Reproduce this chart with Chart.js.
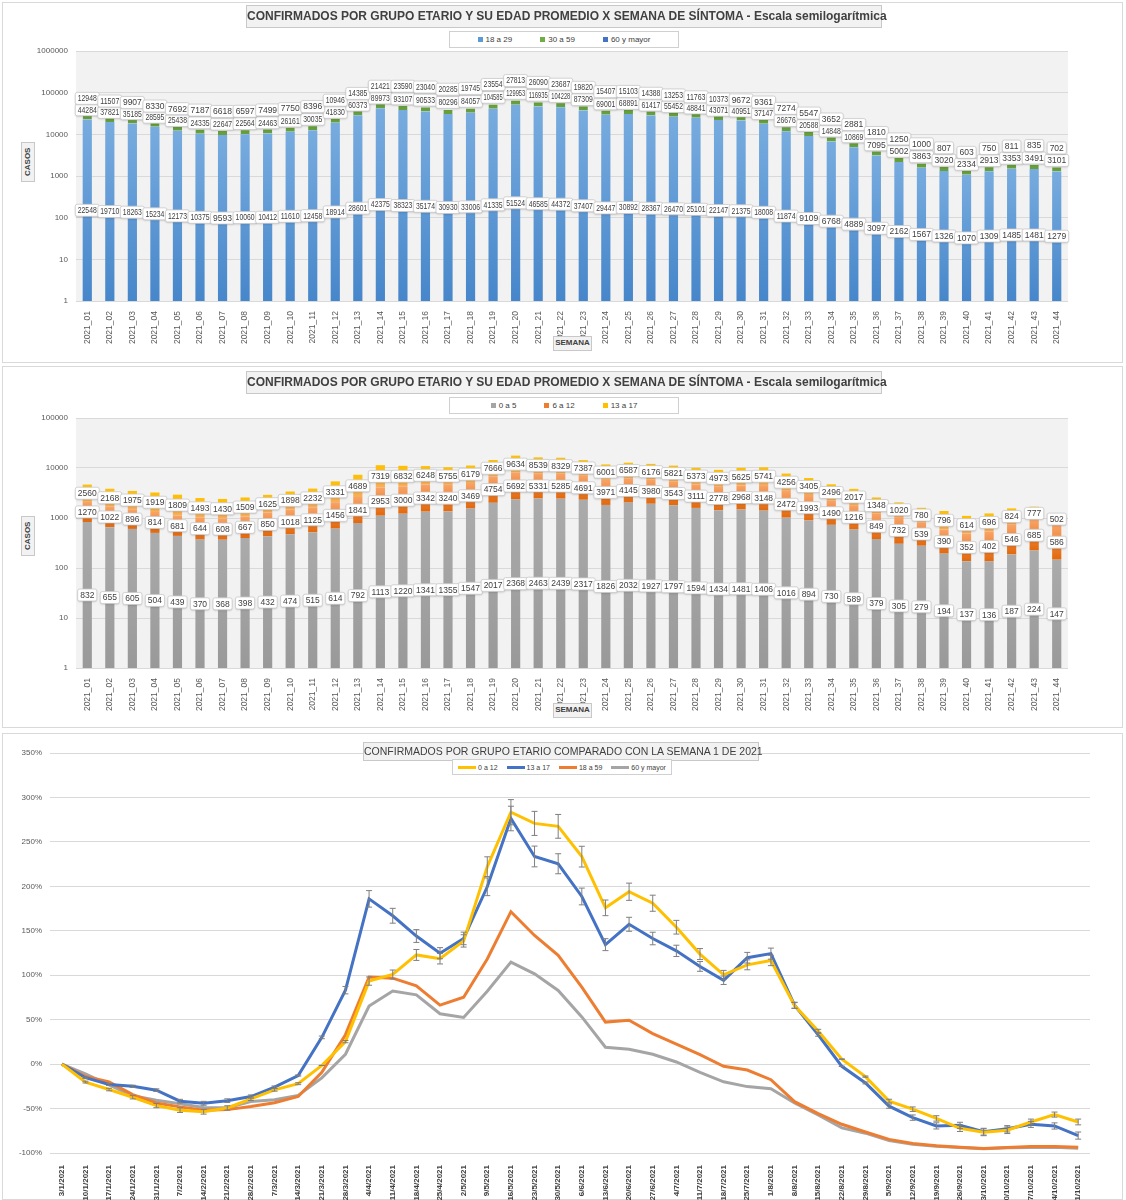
<!DOCTYPE html>
<html>
<head>
<meta charset="utf-8">
<script src="https://cdn.jsdelivr.net/npm/chart.js@4.4.1/dist/chart.umd.min.js"></script>
<style>
body{margin:0;background:#fff;font-family:"Liberation Sans",Arial,sans-serif;color:#404040}
.panel{position:absolute;left:2px;width:1121px;border:1px solid #d9d9d9;box-sizing:border-box;background:#fff}
canvas{position:absolute;left:0}
.ttl{position:absolute;background:#f2f2f2;border:1px solid #c8c8c8;text-align:center;white-space:nowrap;color:#404040}
.leg{position:absolute;border:1px solid #d0d0d0;background:#fff;font-size:8px;color:#404040;display:flex;align-items:center;justify-content:center;gap:28px;white-space:nowrap}
.leg span{white-space:nowrap}
.leg i{display:inline-block;width:5px;height:5px;margin-right:3px;vertical-align:middle}
.leg b{display:inline-block;width:18px;height:3px;margin-right:2px;vertical-align:middle}
.axt{position:absolute;background:#f2f2f2;border:1px solid #c8c8c8;font-size:8px;font-weight:bold;color:#404040;text-align:center;line-height:12px}
</style>
</head>
<body>
<div class="panel" style="top:2px;height:361px"></div>
<div class="panel" style="top:366px;height:362px"></div>
<div class="panel" style="top:733px;height:467px"></div>

<canvas id="c1" width="1126" height="362" style="top:0"></canvas>
<canvas id="c2" width="1126" height="362" style="top:366px"></canvas>
<canvas id="c3" width="1126" height="467" style="top:733px"></canvas>

<div class="ttl" style="left:246px;top:5px;width:634px;height:21px;line-height:21px;font-size:12px;font-weight:bold">CONFIRMADOS POR GRUPO ETARIO Y SU EDAD PROMEDIO X SEMANA DE SÍNTOMA - Escala semilogarítmica</div>
<div class="leg" style="left:449px;top:31px;width:228px;height:15px"><span><i style="background:#5B9BD5"></i>18 a 29</span><span><i style="background:#70AD47"></i>30 a 59</span><span><i style="background:#4472C4"></i>60 y mayor</span></div>
<div class="axt" style="left:21px;top:142px;width:12px;height:38px;writing-mode:vertical-rl;transform:rotate(180deg);line-height:12px">CASOS</div>
<div class="axt" style="left:553px;top:336px;width:37px;height:13px">SEMANA</div>

<div class="ttl" style="left:246px;top:371px;width:634px;height:21px;line-height:21px;font-size:12px;font-weight:bold">CONFIRMADOS POR GRUPO ETARIO Y SU EDAD PROMEDIO X SEMANA DE SÍNTOMA - Escala semilogarítmica</div>
<div class="leg" style="left:449px;top:397px;width:228px;height:15px"><span><i style="background:#A5A5A5"></i>0 a 5</span><span><i style="background:#ED7D31"></i>6 a 12</span><span><i style="background:#FFC000"></i>13 a 17</span></div>
<div class="axt" style="left:21px;top:516px;width:12px;height:38px;writing-mode:vertical-rl;transform:rotate(180deg);line-height:12px">CASOS</div>
<div class="axt" style="left:553px;top:703px;width:37px;height:13px">SEMANA</div>

<div class="ttl" style="left:363px;top:742px;width:394px;height:17px;line-height:17px;font-size:10.5px">CONFIRMADOS POR GRUPO ETARIO COMPARADO CON LA SEMANA 1 DE 2021</div>
<div class="leg" style="left:452px;top:759px;width:218px;height:14px;gap:9px;font-size:7px"><span><b style="background:#FFC000"></b>0 a 12</span><span><b style="background:#4472C4"></b>13 a 17</span><span><b style="background:#ED7D31"></b>18 a 59</span><span><b style="background:#A5A5A5"></b>60 y mayor</span></div>

<script>
const semanas = ["2021_01","2021_02","2021_03","2021_04","2021_05","2021_06","2021_07","2021_08","2021_09","2021_10","2021_11",
  "2021_12","2021_13","2021_14","2021_15","2021_16","2021_17","2021_18","2021_19","2021_20","2021_21","2021_22",
  "2021_23","2021_24","2021_25","2021_26","2021_27","2021_28","2021_29","2021_30","2021_31","2021_32","2021_33",
  "2021_34","2021_35","2021_36","2021_37","2021_38","2021_39","2021_40","2021_41","2021_42","2021_43","2021_44"]

// grafico 1
const casos18a29 = [22548,19710,18263,15234,12173,10375,9593,10060,10412,11610,12458,18914,28601,42375,38323,35174,30930,33006,41335,51524,46585,44372,
  37407,29447,30892,28367,26470,25101,22147,21375,18008,11874,9109,6768,4889,3097,2162,1567,1326,1070,1309,1485,1481,1279]
const casos30a59 = [44284,37821,35185,28595,25438,24335,22647,22564,24463,26161,30035,41830,60373,89973,93107,90533,80296,84057,104585,129953,116935,104228,
  87309,69001,68891,61417,55452,48841,43071,40951,37147,26676,20588,14848,10869,7095,5002,3863,3020,2334,2913,3353,3491,3101]
const casos60mas = [12948,11507,9907,8330,7692,7187,6618,6597,7499,7750,8396,10946,14385,21421,23590,23040,20285,19745,23554,27813,26090,23687,
  19820,15407,15103,14388,13253,11763,10373,9672,9361,7274,5547,3652,2881,1810,1250,1000,807,603,750,811,835,702]

// grafico 2
const casos0a5 = [832,655,605,504,439,370,368,398,432,474,515,614,792,1113,1220,1341,1355,1547,2017,2368,2463,2439,
  2317,1826,2032,1927,1797,1594,1434,1481,1406,1016,894,730,589,379,305,279,194,137,136,187,224,147]
const casos6a12 = [1270,1022,896,814,681,644,608,667,850,1018,1125,1456,1841,2953,3000,3342,3240,3469,4754,5692,5331,5285,
  4691,3971,4145,3980,3543,3111,2778,2968,3148,2472,1993,1490,1216,849,732,539,390,352,402,546,685,586]
const casos13a17 = [2560,2168,1975,1919,1809,1493,1430,1509,1625,1898,2232,3331,4689,7319,6832,6248,5755,6179,7666,9634,8539,8329,
  7387,6001,6587,6176,5821,5373,4973,5625,5741,4256,3405,2496,2017,1348,1020,780,796,614,696,824,777,502]

const ticksLog1 = [1,10,100,1000,10000,100000,1000000]
const ticksLog2 = [1,10,100,1000,10000,100000]

// grafico 3 (% respecto a la semana 1)
const fechas = ["3/1/2021","10/1/2021","17/1/2021","24/1/2021","31/1/2021","7/2/2021","14/2/2021","21/2/2021","28/2/2021","7/3/2021","14/3/2021",
  "21/3/2021","28/3/2021","4/4/2021","11/4/2021","18/4/2021","25/4/2021","2/5/2021","9/5/2021","16/5/2021","23/5/2021","30/5/2021",
  "6/6/2021","13/6/2021","20/6/2021","27/6/2021","4/7/2021","11/7/2021","18/7/2021","25/7/2021","1/8/2021","8/8/2021","15/8/2021",
  "22/8/2021","29/8/2021","5/9/2021","12/9/2021","19/9/2021","26/9/2021","3/10/2021","10/10/2021","17/10/2021","24/10/2021","31/10/2021"]
const pct0a12 = [0,-20.2,-28.6,-37.3,-46.7,-51.8,-53.6,-49.3,-39.0,-29.0,-22.0,-1.5,25.3,93.4,100.8,122.8,118.6,138.6,222.1,283.4,270.8,267.5,
  233.4,175.8,193.9,181.0,154.0,123.8,100.4,111.7,116.6,65.9,37.3,5.6,-14.1,-41.6,-50.7,-61.1,-72.2,-76.7,-74.4,-65.1,-56.8,-65.1]
const pct13a17 = [0,-15.3,-22.9,-25.0,-29.3,-41.7,-44.1,-41.1,-36.5,-25.9,-12.8,30.1,83.2,185.9,166.9,144.1,124.8,141.4,199.5,276.3,233.6,225.4,
  188.6,134.4,157.3,141.3,127.4,109.9,94.3,119.7,124.3,66.3,33.0,-2.5,-21.2,-47.3,-60.2,-69.5,-68.9,-76.0,-72.8,-67.8,-69.6,-80.4]
const pct18a59 = [0,-13.9,-20.0,-34.4,-43.7,-48.1,-51.8,-51.2,-47.8,-43.5,-36.4,-9.1,33.1,98.0,96.7,88.1,66.4,75.2,118.3,171.5,144.7,122.3,
  86.6,47.3,49.3,34.3,22.6,10.6,-2.4,-6.7,-17.5,-42.3,-55.6,-67.7,-76.4,-84.7,-89.3,-91.9,-93.5,-94.9,-93.7,-92.8,-92.6,-93.4]
const pct60mas = [0,-11.1,-23.5,-35.7,-40.6,-44.5,-48.9,-49.1,-42.1,-40.1,-35.2,-15.5,11.1,65.4,82.2,77.9,56.7,52.5,81.9,114.8,101.5,82.9,
  53.1,19.0,16.6,11.1,2.4,-9.2,-19.9,-25.3,-27.7,-43.8,-57.2,-71.8,-77.7,-86.0,-90.3,-92.3,-93.8,-95.3,-94.2,-93.7,-93.6,-94.6]

// fondo gris del area de trazado
const fondoGris = {
  id: 'fondoGris',
  beforeDraw(chart) {
    const a = chart.chartArea
    chart.ctx.save()
    chart.ctx.fillStyle = '#F2F2F2'
    chart.ctx.fillRect(a.left, a.top, a.right - a.left, a.bottom - a.top)
    chart.ctx.restore()
  }
}

// etiquetas en cajitas blancas al centro de cada segmento
const etiquetas = {
  id: 'etiquetas',
  afterDatasetsDraw(chart) {
    const ctx = chart.ctx
    ctx.save()
    ctx.font = '8.5px "Liberation Sans", Arial'
    ctx.textAlign = 'center'
    ctx.textBaseline = 'middle'
    chart.data.datasets.forEach(function(ds, di) {
      chart.getDatasetMeta(di).data.forEach(function(bar, i) {
        const txt = String(ds.data[i])
        const cy = (bar.y + bar.base) / 2
        const tw = ctx.measureText(txt).width
        const sx = tw > 19 ? 19 / tw : 1   // texto un poco condensado, como en la fuente original
        const w = tw * sx + 5
        const h = 12
        ctx.shadowColor = 'rgba(0,0,0,0.18)'
        ctx.shadowBlur = 2
        ctx.shadowOffsetY = 1
        ctx.fillStyle = '#fff'
        ctx.beginPath()
        ctx.roundRect(bar.x - w / 2, cy - h / 2, w, h, 2)
        ctx.fill()
        ctx.shadowColor = 'transparent'
        ctx.strokeStyle = '#c9c9c9'
        ctx.lineWidth = 0.8
        ctx.stroke()
        ctx.fillStyle = '#404040'
        ctx.save()
        ctx.translate(bar.x, cy + 0.5)
        ctx.scale(sx, 1)
        ctx.fillText(txt, 0, 0)
        ctx.restore()
      })
    })
    ctx.restore()
  }
}

// barras de error (5%) para las series 0 a 12 y 13 a 17
const barrasError = {
  id: 'barrasError',
  afterDatasetsDraw(chart) {
    const ctx = chart.ctx
    const y = chart.scales.y
    ctx.save()
    ctx.strokeStyle = '#7f7f7f'
    ctx.lineWidth = 1
    chart.data.datasets.forEach(function(ds, di) {
      if (!ds.conError) return
      chart.getDatasetMeta(di).data.forEach(function(p, i) {
        const v = ds.data[i]
        const e = Math.abs(v) * 0.05
        if (!e) return
        const y0 = y.getPixelForValue(v - e)
        const y1 = y.getPixelForValue(v + e)
        ctx.beginPath()
        ctx.moveTo(p.x, y0); ctx.lineTo(p.x, y1)
        ctx.moveTo(p.x - 3, y0); ctx.lineTo(p.x + 3, y0)
        ctx.moveTo(p.x - 3, y1); ctx.lineTo(p.x + 3, y1)
        ctx.stroke()
      })
    })
    ctx.restore()
  }
}

// degradado vertical por segmento
function degradado(abajo, arriba) {
  return function(c) {
    const chart = c.chart
    const y = chart.scales.y
    if (c.type !== 'data' || !y || !chart.chartArea) return arriba
    let base = 0
    for (let d = 0; d < c.datasetIndex; d++) base += chart.data.datasets[d].data[c.dataIndex]
    const y0 = base > 0 ? y.getPixelForValue(base) : y.bottom
    const y1 = y.getPixelForValue(base + c.raw)
    const g = chart.ctx.createLinearGradient(0, y0, 0, y1)
    g.addColorStop(0, abajo)
    g.addColorStop(1, arriba)
    return g
  }
}

function graficoBarras(id, datasets, ticksLog, padTop, altoX) {
  return new Chart(document.getElementById(id), {
    type: 'bar',
    data: { labels: semanas, datasets: datasets },
    options: {
      responsive: false,
      animation: false,
      layout: { padding: { top: padTop, right: 58, left: 0, bottom: 0 } },
      plugins: { legend: { display: false }, tooltip: { enabled: false } },
      datasets: { bar: { barPercentage: 0.85, categoryPercentage: 0.48 } },
      scales: {
        x: {
          stacked: true,
          grid: { display: false },
          border: { display: false },
          ticks: { autoSkip: false, minRotation: 90, maxRotation: 90, color: '#595959', font: { size: 8.5 }, padding: 2 },
          afterFit(s) { s.height = altoX }
        },
        y: {
          type: 'logarithmic',
          stacked: true,
          min: ticksLog[0],
          max: ticksLog[ticksLog.length - 1],
          afterBuildTicks(s) { s.ticks = ticksLog.map(v => ({ value: v })) },
          ticks: { color: '#595959', font: { size: 8 }, padding: 8, callback: v => String(v) },
          grid: { color: '#d9d9d9', drawTicks: false },
          border: { display: false },
          afterFit(s) { s.width = 76 }
        }
      }
    },
    plugins: [fondoGris, etiquetas]
  })
}

graficoBarras('c1', [
  { label: '18 a 29', data: casos18a29, backgroundColor: degradado('#4686CA', '#78ACDF') },
  { label: '30 a 59', data: casos30a59, backgroundColor: 'rgba(0,0,0,0)', borderColor: '#66A03C',
    borderWidth: { top: 0, right: 0, bottom: 4, left: 0 }, borderSkipped: false },
  { label: '60 y mayor', data: casos60mas, backgroundColor: 'rgba(0,0,0,0)' }
], ticksLog1, 51, 61)

graficoBarras('c2', [
  { label: '0 a 5', data: casos0a5, backgroundColor: degradado('#999999', '#ABABAB') },
  { label: '6 a 12', data: casos6a12, backgroundColor: degradado('#E2680C', '#F8A468') },
  { label: '13 a 17', data: casos13a17, backgroundColor: degradado('#F8AE5A', '#FFC000') }
], ticksLog2, 52, 60)

new Chart(document.getElementById('c3'), {
  type: 'line',
  data: {
    labels: fechas,
    datasets: [
      { label: '0 a 12', data: pct0a12, borderColor: '#FFC000', backgroundColor: '#FFC000', conError: true },
      { label: '13 a 17', data: pct13a17, borderColor: '#4472C4', backgroundColor: '#4472C4', conError: true },
      { label: '18 a 59', data: pct18a59, borderColor: '#ED7D31', backgroundColor: '#ED7D31' },
      { label: '60 y mayor', data: pct60mas, borderColor: '#A5A5A5', backgroundColor: '#A5A5A5' }
    ]
  },
  options: {
    responsive: false,
    animation: false,
    layout: { padding: { top: 20, right: 36, left: 0, bottom: 0 } },
    plugins: { legend: { display: false }, tooltip: { enabled: false } },
    elements: { point: { radius: 0 }, line: { borderWidth: 3, tension: 0 } },
    scales: {
      x: {
        offset: true,
        grid: { display: false },
        border: { display: false },
        ticks: { autoSkip: false, minRotation: 90, maxRotation: 90, color: '#404040', font: { size: 8, weight: 'bold' }, padding: 4 },
        afterFit(s) { s.height = 47 }
      },
      y: {
        min: -100,
        max: 350,
        ticks: { stepSize: 50, color: '#595959', font: { size: 8 }, padding: 8, callback: v => v + '%' },
        grid: { color: '#d9d9d9', drawTicks: false },
        border: { display: false },
        afterFit(s) { s.width = 50 }
      }
    }
  },
  plugins: [barrasError]
})
</script>
</body>
</html>
